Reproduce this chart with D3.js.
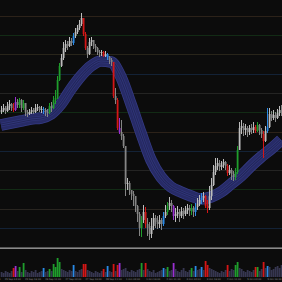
<!DOCTYPE html>
<html><head><meta charset="utf-8">
<script src="https://cdn.jsdelivr.net/npm/d3@7"></script>
<style>html,body{margin:0;padding:0;background:#0c0c0c;overflow:hidden}</style>
</head><body><svg id="c" width="282" height="282"></svg>
<script>
// ---- data ----
const firstOpen = 1.1688;
const closes = [
1.1690,1.1692,1.1689,1.1694,1.1696,1.1692,1.1690,1.1698,1.1695,1.1700,
1.1692,1.1697,1.1688,1.1686,1.1688,1.1690,1.1688,1.1692,1.1693,1.1690,
1.1691,1.1690,1.1688,1.1687,1.1694,1.1692,1.1700,1.1702,1.1720,1.1734,
1.1742,1.1752,1.1756,1.1754,1.1759,1.1757,1.1764,1.1768,1.1772,1.1776,
1.1782,1.1766,1.1752,1.1746,1.1758,1.1760,1.1754,1.1752,1.1748,1.1747,
1.1748,1.1744,1.1746,1.1743,1.1740,1.1738,1.1704,1.1700,1.1672,1.1668,
1.1664,1.1654,1.1616,1.1617,1.1610,1.1606,1.1604,1.1594,1.1586,1.1572,
1.1580,1.1588,1.1576,1.1572,1.1566,1.1574,1.1582,1.1578,1.1576,1.1580,
1.1576,1.1584,1.1588,1.1594,1.1597,1.1594,1.1584,1.1586,1.1588,1.1584,
1.1589,1.1586,1.1590,1.1592,1.1589,1.1592,1.1588,1.1593,1.1596,1.1600,
1.1602,1.1604,1.1594,1.1592,1.1604,1.1615,1.1628,1.1634,1.1637,1.1633,
1.1635,1.1638,1.1634,1.1627,1.1630,1.1626,1.1623,1.1628,1.1650,1.1672,
1.1674,1.1670,1.1672,1.1668,1.1672,1.1670,1.1673,1.1669,1.1675,1.1670,
1.1666,1.1659,1.1669,1.1673,1.1686,1.1682,1.1685,1.1682,1.1687,1.1690,
1.1688];
const highs = [
1.1694,1.1696,1.1694,1.1698,1.1700,1.1697,1.1697,1.1703,1.1701,1.1702,
1.1701,1.1700,1.1697,1.1690,1.1691,1.1693,1.1692,1.1696,1.1696,1.1694,
1.1694,1.1693,1.1692,1.1691,1.1697,1.1698,1.1704,1.1710,1.1724,1.1737,
1.1746,1.1758,1.1760,1.1759,1.1763,1.1762,1.1767,1.1772,1.1775,1.1780,
1.1787,1.1782,1.1768,1.1754,1.1762,1.1763,1.1760,1.1756,1.1753,1.1750,
1.1750,1.1749,1.1749,1.1747,1.1744,1.1742,1.1738,1.1712,1.1702,1.1682,
1.1680,1.1666,1.1654,1.1622,1.1619,1.1610,1.1609,1.1604,1.1595,1.1588,
1.1584,1.1595,1.1593,1.1582,1.1578,1.1582,1.1587,1.1585,1.1584,1.1585,
1.1582,1.1588,1.1595,1.1598,1.1603,1.1600,1.1595,1.1592,1.1594,1.1591,
1.1593,1.1592,1.1594,1.1596,1.1595,1.1596,1.1594,1.1597,1.1602,1.1605,
1.1607,1.1608,1.1605,1.1600,1.1614,1.1622,1.1635,1.1642,1.1642,1.1640,
1.1639,1.1641,1.1639,1.1636,1.1635,1.1632,1.1629,1.1632,1.1654,1.1678,
1.1680,1.1677,1.1676,1.1674,1.1675,1.1676,1.1678,1.1675,1.1678,1.1676,
1.1672,1.1669,1.1674,1.1692,1.1692,1.1689,1.1690,1.1688,1.1691,1.1694,
1.1695];
const lows = [
1.1686,1.1688,1.1686,1.1688,1.1690,1.1689,1.1688,1.1689,1.1692,1.1692,
1.1688,1.1690,1.1684,1.1683,1.1685,1.1686,1.1686,1.1687,1.1689,1.1688,
1.1687,1.1686,1.1684,1.1683,1.1686,1.1688,1.1691,1.1696,1.1701,1.1719,
1.1733,1.1740,1.1748,1.1750,1.1753,1.1754,1.1755,1.1762,1.1766,1.1770,
1.1774,1.1764,1.1750,1.1742,1.1745,1.1754,1.1751,1.1748,1.1745,1.1743,
1.1744,1.1743,1.1743,1.1740,1.1736,1.1734,1.1702,1.1696,1.1670,1.1666,
1.1660,1.1652,1.1604,1.1610,1.1605,1.1600,1.1594,1.1588,1.1578,1.1564,
1.1563,1.1577,1.1572,1.1564,1.1560,1.1562,1.1570,1.1572,1.1571,1.1572,
1.1570,1.1574,1.1582,1.1585,1.1590,1.1588,1.1580,1.1578,1.1582,1.1578,
1.1582,1.1581,1.1584,1.1586,1.1584,1.1585,1.1583,1.1584,1.1590,1.1594,
1.1596,1.1598,1.1592,1.1587,1.1590,1.1600,1.1614,1.1625,1.1630,1.1629,
1.1630,1.1632,1.1630,1.1624,1.1625,1.1620,1.1619,1.1620,1.1626,1.1650,
1.1666,1.1664,1.1665,1.1663,1.1665,1.1666,1.1667,1.1667,1.1668,1.1665,
1.1662,1.1642,1.1658,1.1667,1.1672,1.1679,1.1680,1.1678,1.1681,1.1684,
1.1684];
// bar colour codes: n = plain, g = green, r = red, b = blue, p = purple
const barCodes = (
"nnnnnnrpng" + "ngnnnnnnnn" + "nbnngngggg" + "nnnnnnbnnn" + "nrrnnnnnnn" +
"nrnbnnrnrp" + "nnnnnnnnnn" + "gnrnnnnnnn" + "nbngnnpnnn" + "nnnnngnbnn" +
"bnrrnnnnnn" + "nnnrnnnggn" + "nnnnnnnrgn" + "nrnbnnnnnn" + "n").split("");
const volumes = [
500,400,600,500,400,600,900,1100,600,1000,
500,1400,700,500,400,600,500,700,400,500,
600,900,500,600,800,600,1300,1000,1900,1500,
800,700,600,500,700,600,1200,600,500,700,
800,1300,1300,700,600,500,400,600,500,400,
600,800,500,1100,600,500,1300,600,1200,1400,
700,800,900,600,500,700,600,500,700,800,
1400,700,1400,800,600,500,700,400,500,600,
700,900,800,1000,600,700,1400,800,600,500,
700,900,600,500,700,900,600,1100,700,800,
1000,700,1600,1200,900,800,700,600,500,400,
600,500,700,1200,600,800,700,1200,1500,900,
800,600,500,700,600,500,700,1000,1000,600,
800,1500,900,1100,1000,700,800,1000,1100,900,
1200];
// moving-average band, sampled every 5 bars
const maStep = 5;
const maValues = [1.1675,1.1677,1.1679,1.1681,1.1682,1.1686,1.1696,1.1711,1.1724,1.1734,
1.1739,1.1738,1.1723,1.1696,1.1667,1.1640,1.1623,1.1613,1.1608,1.1604,
1.1601,1.1603,1.1608,1.1616,1.1624,1.1634,1.1643,1.1651,1.1660];
// horizontal levels
const gridLevels = [1.1784,1.1765,1.1746,1.1726,1.1707,1.1688,1.1668,1.1649,1.1630,1.1611,1.1591,1.1572];
const gridColors = ["#2c2219","#122b15","#29251a","#132236","#242423","#122b15","#2c2219","#132236","#242423","#122b15","#292520","#132236"];
// time labels (every 16 trading hours)
const timeLabels = ["24 Sep 11:00","25 Sep 03:00","25 Sep 19:00","26 Sep 11:00","27 Sep 03:00","27 Sep 19:00","28 Sep 11:00","1 Oct 03:00","1 Oct 19:00","2 Oct 11:00","3 Oct 03:00","3 Oct 19:00","4 Oct 11:00","5 Oct 03:00","5 Oct 19:00"];
const labelHours = [-16,0,16,32,48,64,80,96,112,128,144,160,176,192,208];

// ---- drawing ----
const W = 282, H = 282;
const colorOf = {n:null, g:"#1f9e2c", r:"#d41616", b:"#2a8ae6", p:"#9a30d2"};
const svg = d3.select("#c");
svg.append("rect").attr("width",W).attr("height",H).attr("fill","#0c0c0c");

const x = d3.scaleLinear().domain([0, closes.length-1]).range([1, 281]);
const y = d3.scaleLinear().domain([1.1554, 1.1800]).range([246, 0]);
const vy = d3.scaleLinear().domain([0, 2700]).range([277, 250]);
const hx = d3.scaleLinear().domain([0, 16]).range([4.8, 25.0]);

svg.append("g").selectAll("line").data(gridLevels).join("line")
  .attr("x1",0).attr("x2",W)
  .attr("y1",d=>Math.round(y(d))+0.5).attr("y2",d=>Math.round(y(d))+0.5)
  .attr("stroke",(d,i)=>gridColors[i]).attr("stroke-width",1);

// band
const maPts = maValues.map((v,i)=>[i*maStep, v]);
const maLine = d3.line().x(d=>x(d[0])).y(d=>y(d[1])).curve(d3.curveMonotoneX);
const bandG = svg.append("g").attr("fill","none").attr("stroke-linecap","butt");
[[11.5,"#353b86"],[10,"#272b66"],[4.4,"#30357a"],[3,"#23275c"],[0.8,"#343a80"]].forEach(([w,c])=>{
  bandG.append("path").attr("d",maLine(maPts)).attr("stroke",c).attr("stroke-width",w);
});

// candles
const bars = closes.map((c,i)=>({i, o: i? closes[i-1] : firstOpen, c, h: highs[i], l: lows[i], code: barCodes[i], v: volumes[i]}));
function barColor(d){
  const c = colorOf[d.code];
  if (c) return c;
  return d.c >= d.o ? "#bdbdbd" : "#858585";
}
const cg = svg.append("g");
cg.selectAll("line").data(bars).join("line")
  .attr("x1",d=>x(d.i)+0.5).attr("x2",d=>x(d.i)+0.5)
  .attr("y1",d=>y(Math.max(d.h,d.o,d.c))).attr("y2",d=>y(Math.min(d.l,d.o,d.c)))
  .attr("stroke",barColor).attr("stroke-width",1);
cg.selectAll("rect").data(bars).join("rect")
  .attr("x",d=>x(d.i)-0.3).attr("width",1.8)
  .attr("y",d=>y(Math.max(d.o,d.c)))
  .attr("height",d=>Math.max(1, Math.abs(y(d.o)-y(d.c))))
  .attr("fill",barColor);

// separator
svg.append("rect").attr("x",0).attr("y",247.4).attr("width",W).attr("height",1.6).attr("fill","#8a8a8a");

// volume
svg.append("g").selectAll("rect").data(bars).join("rect")
  .attr("x",d=>x(d.i)-0.3).attr("width",1.8)
  .attr("y",d=>vy(d.v)).attr("height",d=>vy(0)-vy(d.v))
  .attr("fill",d=>colorOf[d.code] || "#363650");

// time labels
svg.append("g").selectAll("text").data(timeLabels).join("text")
  .attr("x",(d,i)=>hx(labelHours[i])).attr("y",280.4)
  .attr("font-family","DejaVu Sans").attr("font-size",2.4)
  .attr("fill","#8c8c8c").text(d=>d);
</script></body></html>
